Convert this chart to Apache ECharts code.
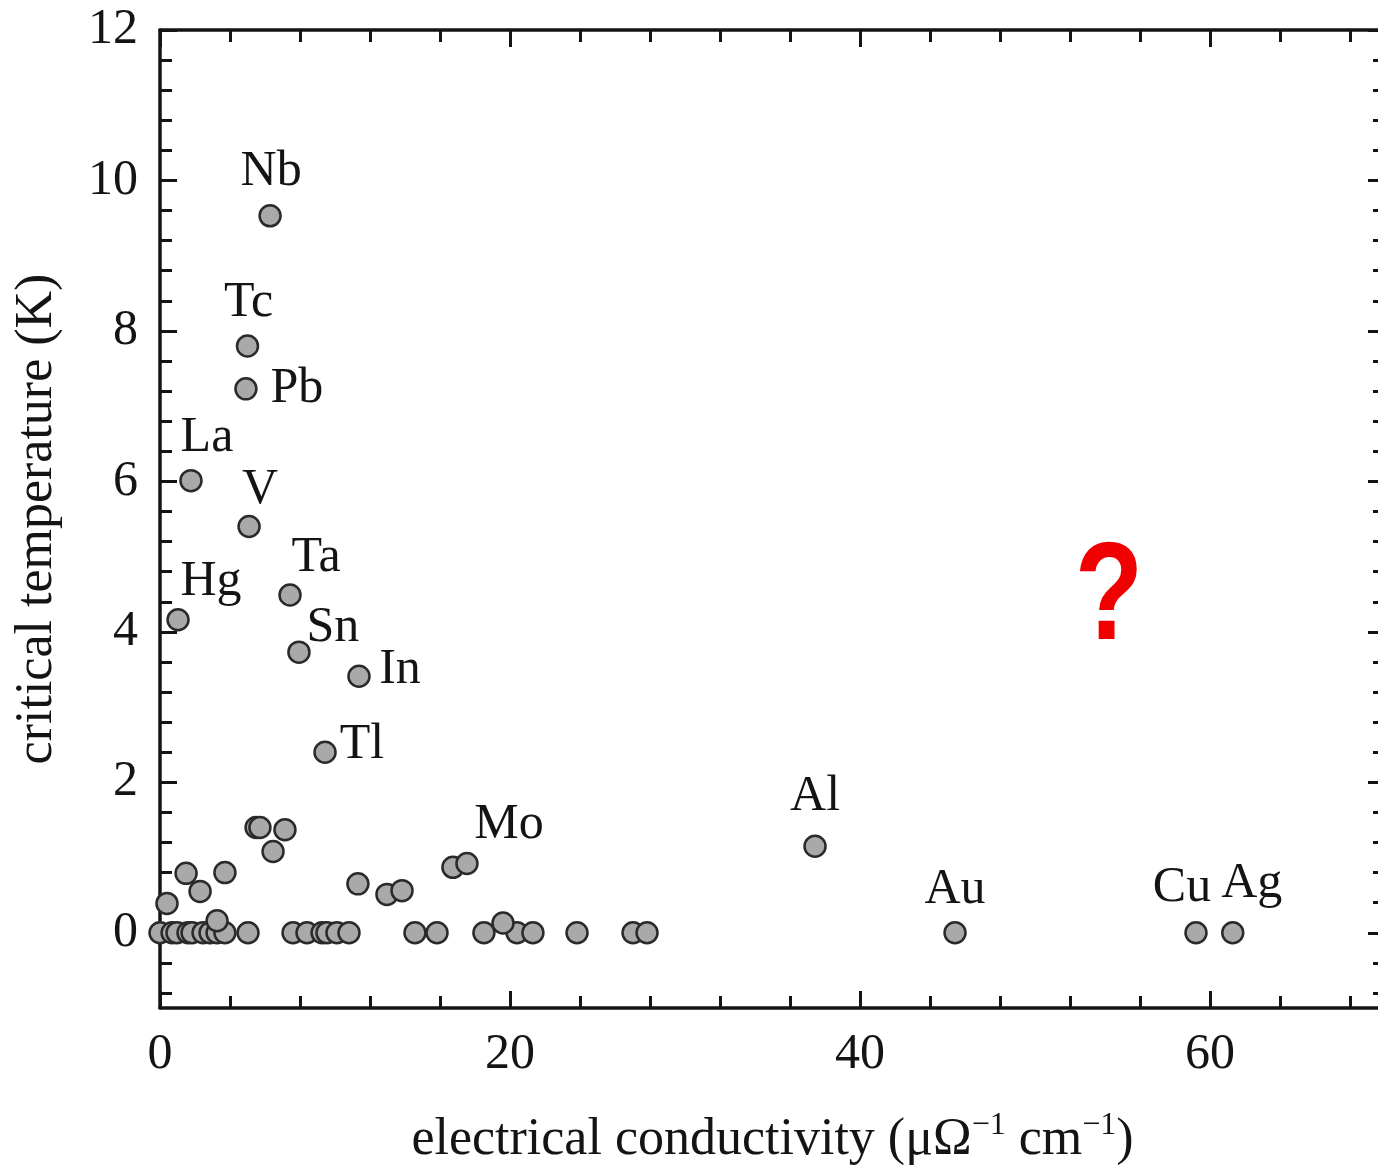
<!DOCTYPE html>
<html>
<head>
<meta charset="utf-8">
<script src="https://cdn.jsdelivr.net/npm/echarts@6/dist/echarts.min.js"></script>
<style>
  html, body { margin: 0; padding: 0; background: #fff; overflow: hidden; }
  #chart { width: 1400px; height: 1165px; }
</style>
</head>
<body>
<div id="chart"></div>
<script>
// labelled elements
const elements = ["Nb", "Tc", "Pb", "La", "V", "Ta", "Hg", "Sn", "In", "Tl", "Mo", "Al", "Au", "Cu", "Ag"];
const elemX = [6.29, 5.0, 4.91, 1.77, 5.09, 7.43, 1.03, 7.94, 11.37, 9.43, 17.54, 37.43, 45.43, 59.2, 61.3];
const elemY = [9.53, 7.8, 7.23, 6.01, 5.4, 4.49, 4.16, 3.73, 3.41, 2.4, 0.92, 1.15, 0, 0, 0];

// unlabelled metals above zero
const otherX = [5.49, 5.71, 7.14, 6.46, 1.49, 3.71, 2.29, 11.31, 12.97, 13.83, 16.74, 0.4, 3.26, 19.6];
const otherY = [1.4, 1.4, 1.37, 1.08, 0.79, 0.8, 0.55, 0.65, 0.51, 0.56, 0.87, 0.39, 0.16, 0.13];

// unlabelled metals with Tc = 0
const zeroX = [0.0, 0.69, 0.97, 1.6, 1.83, 2.46, 2.86, 3.26, 3.71, 5.03, 7.6, 8.4, 9.26, 9.54, 10.11,
               10.8, 14.57, 15.83, 18.51, 20.4, 21.31, 23.83, 27.03, 27.83];

const xTickLabels = [0, 20, 40, 60];
const yTickLabels = [0, 2, 4, 6, 8, 10, 12];

// label placement (offset from marker centre)
const labelOffset = {
    Nb: [1, -44], Tc: [1, -43], Pb: [51, 0], La: [16, -43], V: [11, -37],
    Ta: [26, -37], Hg: [33, -38], Sn: [34, -24], In: [41, -6], Tl: [37, -7],
    Mo: [42, -39], Al: [0, -49], Au: [0, -43], Cu: [-14, -45], Ag: [19, -49]
};

const serif = "Liberation Serif";
const ink = "#141414";

function minorValues(min, max, step, majorStep) {
    const out = [];
    for (let k = Math.ceil(min / step); k * step <= max + 1e-9; k++) {
        const v = +(k * step).toFixed(4);
        if (Math.abs(v / majorStep - Math.round(v / majorStep)) > 1e-6) out.push(v);
    }
    return out;
}

const xMinor = minorValues(0, 70, 4, 20);
const yMinor = minorValues(-1, 12, 0.4, 2);

function axisPair(dim, position, major, minor, withLabels, extra) {
    const base = dim === "x" ? { min: 0, max: 70 } : { min: -1, max: 12 };
    const majorAxis = Object.assign({
        type: "value", position: position, ...base,
        splitLine: { show: false },
        axisLine: { show: true, onZero: false, lineStyle: { color: ink, width: 3.5 } },
        axisTick: { show: true, inside: true, length: 17, customValues: major, lineStyle: { color: ink, width: 3 } },
        axisLabel: withLabels ? {
            show: true, customValues: major, margin: 22,
            fontFamily: serif, fontSize: 50, color: ink
        } : { show: false }
    }, extra || {});
    const minorAxis = {
        type: "value", position: position, ...base,
        splitLine: { show: false },
        axisLine: { show: false, onZero: false },
        axisTick: { show: true, inside: true, length: 12, customValues: minor, lineStyle: { color: ink, width: 3 } },
        axisLabel: { show: false }
    };
    return [majorAxis, minorAxis];
}

const xAxes = [
    ...axisPair("x", "bottom", xTickLabels, xMinor, true, {
        name: "{t|electrical conductivity (μΩ}{s|−1}{t| cm}{s|−1}{t|)}",
        nameLocation: "middle", nameGap: 102,
        nameTextStyle: {
            rich: {
                t: { fontFamily: serif, fontSize: 52, color: ink, lineHeight: 60 },
                s: { fontFamily: serif, fontSize: 32, color: ink, lineHeight: 34, verticalAlign: "top" }
            }
        }
    }),
    ...axisPair("x", "top", xTickLabels, xMinor, false)
];

const yAxes = [
    ...axisPair("y", "left", yTickLabels, yMinor, true, {
        name: "critical temperature (K)",
        nameLocation: "middle", nameGap: 97,
        nameTextStyle: { fontFamily: serif, fontSize: 52, color: ink }
    }),
    ...axisPair("y", "right", yTickLabels, yMinor, false)
];

const markerStyle = { color: "#a9a9a9", borderColor: "#2a2a2a", borderWidth: 2.5, opacity: 1 };

const labelledData = elements.map((name, i) => ({
    name: name,
    value: [elemX[i], elemY[i]],
    label: { offset: labelOffset[name] }
}));

const otherData = otherX.map((x, i) => [x, otherY[i]]);
const zeroData = zeroX.map(x => [x, 0]);

const chart = echarts.init(document.getElementById("chart"));
chart.setOption({
    animation: false,
    backgroundColor: "#fff",
    grid: { left: 160, right: 15, top: 30, bottom: 157, containLabel: false, outerBoundsMode: "none" },
    xAxis: xAxes,
    yAxis: yAxes,
    graphic: [{
        type: "text",
        x: 1109, y: 600, scaleX: 0.8,
        style: {
            text: "?", fontFamily: "Liberation Sans", fontWeight: "bold", fontSize: 140,
            fill: "#f00000", align: "center", verticalAlign: "middle"
        }
    }],
    series: [
        {
            type: "scatter", xAxisIndex: 0, yAxisIndex: 0,
            symbolSize: 21, itemStyle: markerStyle,
            data: zeroData
        },
        {
            type: "scatter", xAxisIndex: 0, yAxisIndex: 0,
            symbolSize: 21, itemStyle: markerStyle,
            data: otherData
        },
        {
            type: "scatter", xAxisIndex: 0, yAxisIndex: 0,
            symbolSize: 21, itemStyle: markerStyle,
            label: {
                show: true, position: "inside", formatter: "{b}",
                fontFamily: serif, fontSize: 50, color: ink,
                textBorderWidth: 0, textBorderColor: "transparent"
            },
            data: labelledData
        }
    ]
});
</script>
</body>
</html>
